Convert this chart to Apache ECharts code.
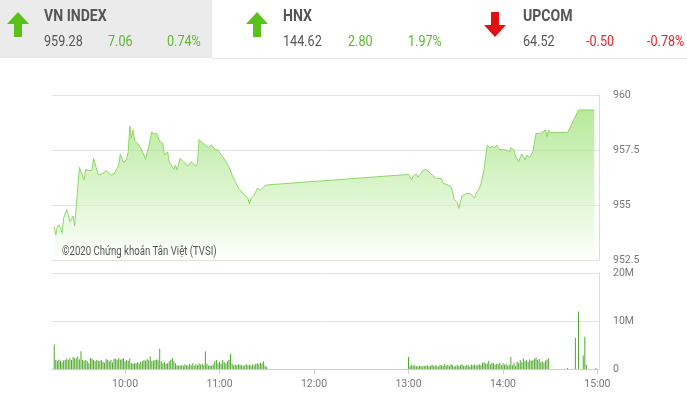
<!DOCTYPE html>
<html>
<head>
<meta charset="utf-8">
<script src="https://cdn.jsdelivr.net/npm/echarts@6.0.0/dist/echarts.min.js"></script>
<style>
  html, body { margin: 0; padding: 0; background: #fff; }
  #chart { width: 687px; height: 399px; }
</style>
</head>
<body>
<div id="chart"></div>
<script>
// header boxes
const indexNames = ["VN INDEX", "HNX", "UPCOM"];
const indexValues = ["959.28", "144.62", "64.52"];
const indexChanges = ["7.06", "2.80", "-0.50"];
const indexPercents = ["0.74%", "1.97%", "-0.78%"];

// intraday VN-Index, time -> points
const priceTimes = [
  "09:15","09:16","09:17","09:18","09:20","09:21","09:23","09:25","09:27","09:28",
  "09:29","09:31","09:32","09:34","09:35","09:37","09:39","09:40","09:42","09:43",
  "09:46","09:48","09:51","09:53","09:54","09:56","09:57","09:59","10:01","10:02",
  "10:03","10:04","10:05","10:06","10:08","10:10","10:12","10:13","10:15","10:17",
  "10:18","10:20","10:22","10:24","10:25","10:27","10:28","10:29","10:31","10:32",
  "10:33","10:35","10:37","10:38","10:40","10:42","10:45","10:46","10:47","10:49",
  "10:51","10:53","10:55","10:57","10:59","11:02","11:04","11:06","11:08","11:10",
  "11:12","11:14","11:16","11:18","11:19","11:20","11:22","11:23","11:24","11:26",
  "11:28","11:30",
  "13:00","13:02","13:03","13:05","13:06","13:08","13:09","13:11","13:12","13:14",
  "13:16","13:18","13:19","13:21","13:22","13:25","13:27","13:28","13:29","13:31",
  "13:32","13:33","13:34","13:36","13:37","13:39","13:40","13:42","13:43","13:45",
  "13:46","13:48","13:49","13:50","13:52","13:53","13:55","13:56","13:58","14:00",
  "14:01","14:02","14:04","14:05","14:07","14:08","14:10","14:11","14:12","14:13",
  "14:14","14:15","14:17","14:18","14:19","14:20","14:21","14:22","14:24","14:25",
  "14:27","14:28","14:29","14:30","14:41","14:48","14:58"
];
const priceValues = [
  954.01,953.64,954.00,954.10,953.74,954.40,954.80,954.24,954.50,954.05,
  954.92,956.71,956.77,956.14,956.62,956.56,956.59,957.12,956.62,956.36,
  956.44,956.56,956.36,956.41,956.32,956.82,957.32,956.93,957.08,957.42,
  958.59,958.03,958.41,957.95,957.80,957.58,957.27,957.08,957.65,958.33,
  958.23,958.26,957.88,957.80,957.27,957.42,956.97,957.05,956.62,956.82,
  956.59,957.12,956.97,957.05,956.77,956.97,956.77,956.89,957.98,957.83,
  957.73,957.62,957.73,957.53,957.50,957.20,956.97,956.74,956.36,956.06,
  955.76,955.61,955.45,955.30,955.05,955.30,955.45,955.53,955.76,955.68,
  955.83,955.91,
  956.39,956.14,956.32,956.41,956.26,956.44,956.56,956.62,956.67,956.44,
  956.29,956.21,956.17,956.21,955.99,955.91,955.83,955.61,955.26,955.11,
  954.85,955.15,955.41,955.50,955.45,955.53,955.45,955.33,955.53,955.76,
  955.95,956.59,957.20,957.71,957.58,957.68,957.61,957.73,957.50,957.53,
  957.47,957.50,957.42,957.60,957.50,957.23,956.97,957.17,957.32,957.20,
  957.05,957.27,957.17,957.23,957.42,957.50,958.26,958.33,958.26,958.33,
  958.41,958.11,958.41,958.29,958.29,959.32,959.32
];

// volume per minute, millions of shares
const volStartAM = "09:15";
const volAM = [
  5.1,1.9,1.6,2.0,1.7,1.4,1.8,1.9,2.2,1.9,
  2.3,1.9,2.5,2.3,2.2,2.6,2.0,3.7,1.9,1.7,
  1.9,1.6,1.2,2.3,2.2,1.9,1.6,1.9,1.7,1.6,
  1.9,1.5,1.3,2.1,1.9,1.6,1.9,1.4,2.1,2.2,
  1.9,2.3,1.9,2.1,2.2,1.6,1.9,1.7,2.2,1.2,
  1.1,1.2,1.2,1.4,1.1,1.5,1.6,1.9,1.7,2.1,
  1.8,2.6,1.6,1.7,1.9,2.0,1.8,4.2,1.6,1.2,
  1.4,1.1,1.2,1.6,1.9,2.3,1.6,1.2,0.8,0.7,
  0.8,0.8,0.7,1.0,0.8,0.7,1.1,0.8,1.2,0.7,
  1.0,0.8,1.2,0.9,1.1,0.8,3.7,1.1,0.7,0.8,
  0.7,1.0,1.6,1.9,1.2,1.5,1.1,1.9,1.4,1.2,
  1.6,1.9,3.1,1.1,0.8,0.9,0.8,1.0,0.9,0.8,
  0.7,0.8,1.0,0.8,0.9,0.7,1.0,0.8,1.1,1.2,
  1.0,1.3,1.1,1.6,0.7,0.4
];
const volStartPM = "13:00";
const volPM = [
  2.5,0.6,0.9,0.7,0.8,0.6,0.5,0.7,0.6,0.5,
  0.7,0.6,0.8,0.5,0.7,0.9,0.6,0.8,0.7,0.5,
  0.9,0.8,0.6,1.0,0.7,0.9,0.6,1.0,0.8,0.5,
  0.7,0.9,0.6,0.8,1.0,0.7,0.6,0.9,0.8,0.5,
  0.9,0.8,1.0,0.7,0.9,1.0,0.8,1.3,1.4,1.1,
  1.2,1.7,1.0,1.3,1.2,0.9,1.1,1.0,1.3,0.8,
  1.2,0.9,1.1,0.7,0.9,2.5,0.8,1.3,0.7,1.5,
  1.2,1.8,1.4,2.2,1.6,1.9,1.5,2.0,1.7,1.8,
  2.1,2.4,1.9,2.1,1.4,1.6,1.3,1.7,2.0,2.2
];
const atcTimes = ["14:41","14:46","14:48","14:51","14:52","14:53","14:59"];
const atcVols = [0.2,6.5,12.0,2.8,6.7,0.9,0.2];

const yPriceTicks = [952.5, 955, 957.5, 960];
const xHourTicks = ["10:00","11:00","12:00","13:00","14:00","15:00"];

function toMin(t) {
  const p = t.split(":");
  return +p[0] * 60 + +p[1];
}
function fmtMin(v) {
  const h = Math.floor(v / 60), m = Math.round(v % 60);
  return h + ":" + (m < 10 ? "0" + m : m);
}

const priceData = priceTimes.map((t, i) => [toMin(t), priceValues[i]]);
const volData = [];
volAM.forEach((v, i) => volData.push([toMin(volStartAM) + i, v * 1e6]));
volPM.forEach((v, i) => volData.push([toMin(volStartPM) + i, v * 1e6]));
atcTimes.forEach((t, i) => volData.push([toMin(t), atcVols[i] * 1e6]));

const FONT = "Roboto";
const GREEN = "#5cb82c";
const RED = "#e3242b";
const hourVals = xHourTicks.map(toMin);
const xMin = 553.6, xMax = 901;

// header drawn as graphic elements (text squeezed a bit, the original uses a condensed face)
const headerCols = [[44, 108, 167], [283, 348, 408], [523, 586, 647]];
const arrowX = [18, 257, 495];
const graphics = [
  { type: "rect", shape: { x: 0, y: 0, width: 212, height: 58 }, style: { fill: "#ebebeb" }, silent: true },
  { type: "line", shape: { x1: 212, y1: 58.5, x2: 687, y2: 58.5 }, style: { stroke: "#e8e8e8", lineWidth: 1 } }
];
indexNames.forEach((name, i) => {
  const up = indexChanges[i].charAt(0) !== "-";
  const c = up ? GREEN : RED;
  const ax = arrowX[i];
  const pts = up
    ? [[ax, 12], [ax + 11, 24], [ax + 4, 24], [ax + 4, 37], [ax - 4, 37], [ax - 4, 24], [ax - 11, 24]]
    : [[ax, 37], [ax + 11, 25], [ax + 4, 25], [ax + 4, 12], [ax - 4, 12], [ax - 4, 25], [ax - 11, 25]];
  graphics.push({ type: "polygon", shape: { points: pts }, style: { fill: up ? "#58c21a" : "#e01010" } });
  graphics.push({ type: "text", x: headerCols[i][0], y: 17, scaleX: 0.88, style: { text: name, fill: "#555", font: "bold 16px " + FONT, verticalAlign: "middle" } });
  graphics.push({ type: "text", x: headerCols[i][0], y: 42, scaleX: 0.9, style: { text: indexValues[i], fill: "#555", font: "14px " + FONT, verticalAlign: "middle" } });
  graphics.push({ type: "text", x: headerCols[i][1], y: 42, scaleX: 0.9, style: { text: indexChanges[i], fill: c, font: "14px " + FONT, verticalAlign: "middle" } });
  graphics.push({ type: "text", x: headerCols[i][2], y: 42, scaleX: 0.9, style: { text: indexPercents[i], fill: c, font: "14px " + FONT, verticalAlign: "middle" } });
});
graphics.push({ type: "text", x: 62, y: 252, z: 10, scaleX: 0.8, style: { text: "©2020 Chứng khoán Tân Việt (TVSI)", fill: "#555", font: "12px " + FONT, verticalAlign: "middle" } });

const chart = echarts.init(document.getElementById("chart"));
chart.setOption({
  animation: false,
  textStyle: { fontFamily: FONT },
  graphic: graphics,
  grid: [
    { left: 52, right: 88, top: 95, height: 165 },
    { left: 52, right: 88, top: 273, height: 96 }
  ],
  xAxis: [
    {
      gridIndex: 0, type: "value", min: xMin, max: xMax,
      axisLine: { show: false }, axisTick: { show: false },
      axisLabel: { show: false }, splitLine: { show: false }
    },
    {
      gridIndex: 1, type: "value", min: xMin, max: xMax,
      axisLine: { lineStyle: { color: "#cfcfcf" } },
      axisTick: { customValues: hourVals, length: 5, lineStyle: { color: "#cfcfcf" } },
      axisLabel: { customValues: hourVals, formatter: fmtMin, color: "#777", fontSize: 10.5, margin: 10 },
      splitLine: { show: false }
    }
  ],
  yAxis: [
    {
      gridIndex: 0, type: "value", position: "right",
      min: yPriceTicks[0], max: yPriceTicks[yPriceTicks.length - 1], interval: 2.5,
      axisLine: { show: true, lineStyle: { color: "#dcdcdc" } },
      axisTick: { show: false },
      axisLabel: { color: "#777", fontSize: 10.5, margin: 14, formatter: v => String(v) },
      splitLine: { lineStyle: { color: "#e2e2e2" } }
    },
    {
      gridIndex: 1, type: "value", position: "right",
      min: 0, max: 20e6, interval: 10e6,
      axisLine: { show: true, lineStyle: { color: "#dcdcdc" } },
      axisTick: { show: false },
      axisLabel: { color: "#777", fontSize: 10.5, margin: 14, formatter: v => v === 0 ? "0" : (v / 1e6) + "M" },
      splitLine: { lineStyle: { color: "#e2e2e2" } }
    }
  ],
  series: [
    {
      type: "line", xAxisIndex: 0, yAxisIndex: 0, data: priceData,
      showSymbol: false, smooth: false,
      lineStyle: { color: "#8cd766", width: 1 },
      areaStyle: {
        color: new echarts.graphic.LinearGradient(0, 0, 0, 1, [
          { offset: 0, color: "#98e070" },
          { offset: 1, color: "#fbfef9" }
        ])
      }
    },
    {
      type: "bar", xAxisIndex: 1, yAxisIndex: 1, data: volData,
      barWidth: 1, itemStyle: { color: "#4ea82c" }
    }
  ]
});
</script>
</body>
</html>
